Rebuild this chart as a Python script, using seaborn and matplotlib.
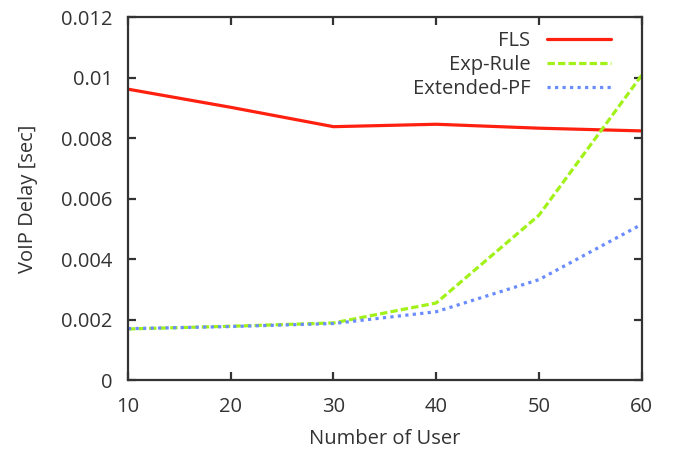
import matplotlib
matplotlib.use("Agg")
import matplotlib.pyplot as plt
import seaborn as sns
import pandas as pd

users = [10, 20, 30, 40, 50, 60]
fls = [0.00962, 0.00902, 0.00838, 0.00846, 0.00833, 0.00824]
exp_rule = [0.00169, 0.00178, 0.00189, 0.00255, 0.00545, 0.01008]
extended_pf = [0.00170, 0.00177, 0.00187, 0.00226, 0.00332, 0.00515]
series_names = ["FLS", "Exp-Rule", "Extended-PF"]
y_ticks = [0, 0.002, 0.004, 0.006, 0.008, 0.01, 0.012]
y_tick_labels = ["0", "0.002", "0.004", "0.006", "0.008", "0.01", "0.012"]
x_ticks = [10, 20, 30, 40, 50, 60]

df = pd.DataFrame({
    "users": users * 3,
    "delay": fls + exp_rule + extended_pf,
    "scheme": [series_names[0]] * 6 + [series_names[1]] * 6 + [series_names[2]] * 6,
})

sns.set_style("ticks")
plt.rcParams["font.family"] = ["Open Sans", "DejaVu Sans"]
ink = "#333333"
fs = 14.5

fig = plt.figure(figsize=(6.74, 4.53), dpi=100)
ax = fig.add_axes([0.19, 0.161, 0.762, 0.801])

palette = {"FLS": "#ff2010", "Exp-Rule": "#a2f21a", "Extended-PF": "#6a8cff"}
dashes = {"FLS": "", "Exp-Rule": (2.3, 1.0), "Extended-PF": (1.0, 1.35)}

sns.lineplot(data=df, x="users", y="delay", hue="scheme", style="scheme",
             palette=palette, dashes=dashes, linewidth=2.3, ax=ax,
             hue_order=series_names, style_order=series_names)

ax.set_xlim(10, 60)
ax.set_ylim(0, 0.012)
ax.set_xticks(x_ticks)
ax.set_xticklabels([str(v) for v in x_ticks])
ax.set_yticks(y_ticks)
ax.set_yticklabels(y_tick_labels)
ax.set_xlabel("Number of User", fontsize=fs, color=ink, labelpad=9)
ax.set_ylabel("VoIP Delay [sec]", fontsize=fs, color=ink, labelpad=17)

for side in ["left", "right", "top", "bottom"]:
    ax.spines[side].set_visible(True)
    ax.spines[side].set_color(ink)
    ax.spines[side].set_linewidth(1.6)
ax.tick_params(direction="in", length=6, width=1.6, color=ink,
               labelsize=fs, labelcolor=ink,
               top=True, right=True)
ax.tick_params(axis="x", pad=12)
ax.tick_params(axis="y", pad=11)

leg = ax.legend(loc="upper right", frameon=False, markerfirst=False,
                fontsize=fs, handlelength=3.2, handletextpad=0.8,
                labelspacing=0.18, borderaxespad=0.3,
                bbox_to_anchor=(0.968, 1.0))
for t in leg.get_texts():
    t.set_color(ink)
    t.set_ha("right")

fig.savefig("out.png", dpi=100)
